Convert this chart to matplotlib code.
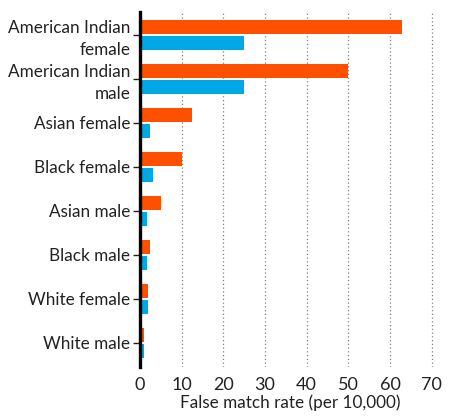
import numpy as np
import matplotlib
matplotlib.use('Agg')
import matplotlib.pyplot as plt

font = {'family': 'Lato', 'weight': 'normal', 'size': 12.3}
matplotlib.rc('font', **font)

# categories, top to bottom
groups = ['American Indian\nfemale', 'American Indian\nmale', 'Asian female',
          'Black female', 'Asian male', 'Black male', 'White female', 'White male']
# false match rate per 10,000 (orange = first series, blue = second series)
orange_vals = [63.0, 50.0, 12.5, 10.0, 5.0, 2.5, 2.0, 1.0]
blue_vals = [25.0, 25.0, 2.5, 3.2, 1.6, 1.6, 2.0, 1.0]
xticks = [0, 10, 20, 30, 40, 50, 60, 70]

orange = '#ff5000'
blue = '#00a8e6'
txt = '#222222'

fig = plt.figure(figsize=(4.51, 4.17), dpi=100, facecolor='white')
ax = fig.add_axes([140 / 451, 1 - 367 / 417, 300 / 451, (367 - 12) / 417])

y = np.arange(len(groups))
h = 0.32
ax.barh(y - 0.18, orange_vals, height=h, color=orange, zorder=3)
ax.barh(y + 0.18, blue_vals, height=h, color=blue, zorder=3)

ax.set_ylim(len(groups) - 1 + 0.55, -0.52)
ax.set_xlim(0, 72)
ax.set_xticks(xticks)
ax.set_yticks(y)
ax.set_yticklabels(groups, ha='right', color=txt)
for lab in ax.get_yticklabels():
    lab.set_multialignment('right')
    lab.set_linespacing(1.4)

for x in xticks[1:]:
    ax.axvline(x, color='#808080', lw=0.9, ls=(0, (1, 2)), zorder=1)

for s in ['top', 'right', 'bottom']:
    ax.spines[s].set_visible(False)
ax.spines['left'].set_linewidth(2.4)
ax.spines['left'].set_color('black')
ax.spines['left'].set_zorder(5)

ax.tick_params(axis='y', length=5, width=1, color=txt, pad=2, labelsize=12.3)
ax.tick_params(axis='x', length=0, pad=7, labelsize=13, colors=txt)
ax.set_xlabel('False match rate (per 10,000)', color=txt, fontsize=12.3, labelpad=1)

plt.savefig('out.png', dpi=100, facecolor='white')
plt.close()
